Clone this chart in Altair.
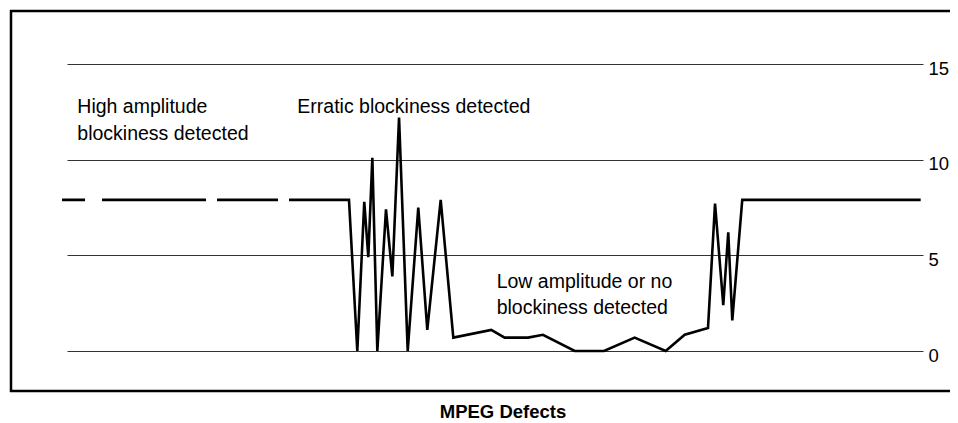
import altair as alt

# frame position (0..100) and blockiness level
frame_t = [0, 33.42, 34.39, 35.20, 35.67, 36.14, 36.72, 37.73, 38.47, 39.25,
           40.26, 41.49, 42.54, 44.10, 45.57, 49.99, 51.55, 54.27, 56.01, 59.71,
           63.12, 66.69, 70.30, 72.52, 75.23, 76.05, 77.01, 77.59, 78.06, 79.22, 100]
blockiness = [7.9, 7.9, 0, 7.8, 4.9, 10.1, 0, 7.4, 3.9, 12.2,
              0, 7.5, 1.1, 7.9, 0.7, 1.1, 0.7, 0.7, 0.85, 0,
              0, 0.7, 0, 0.85, 1.2, 7.7, 2.4, 6.2, 1.6, 7.9, 7.9]

grid_levels = [0, 5, 10, 15]

note_t = [1.78, 1.78, 27.40, 50.62, 50.62]
note_v = [12.45, 11.03, 12.42, 3.28, 1.92]
note_text = ["High amplitude", "blockiness detected",
             "Erratic blockiness detected",
             "Low amplitude or no", "blockiness detected"]

FONT = "Liberation Sans"

xscale = alt.Scale(domain=[0.58, 100.27], nice=False, zero=False)
yscale = alt.Scale(domain=[0, 15], nice=False, zero=False)

yaxis = alt.Axis(orient="right", values=grid_levels, grid=True,
                 gridColor="#333333", gridWidth=1, gridOpacity=1,
                 domain=False, ticks=False, labelPadding=5,
                 labelFontSize=18.5, labelFont=FONT, labelColor="black",
                 labelOffset=4, title=None)

line_data = alt.Data(values=[{"t": t, "v": v} for t, v in zip(frame_t, blockiness)])
note_data = alt.Data(values=[{"t": t, "v": v, "label": s}
                             for t, v, s in zip(note_t, note_v, note_text)])
frame_data = alt.Data(values=[{"frame": 1}])

line = alt.Chart(line_data).mark_line(
    color="black", strokeWidth=2.6,
    strokeDash=[23, 17, 104, 11, 61, 11, 100000, 1],
).encode(
    x=alt.X("t:Q", scale=xscale, axis=None),
    y=alt.Y("v:Q", scale=yscale, axis=yaxis),
)

notes = alt.Chart(note_data).mark_text(
    align="left", baseline="alphabetic", font=FONT, fontSize=19.5, color="black",
).encode(
    x=alt.X("t:Q", scale=xscale, axis=None),
    y=alt.Y("v:Q", scale=yscale, axis=yaxis),
    text="label:N",
)

# outer box: top, left and bottom edges; the right edge runs off the canvas
edge = dict(color="black", strokeWidth=2.5)
top = alt.Chart(frame_data).mark_rule(**edge).encode(
    x=alt.value(-57), x2=alt.value(990), y=alt.value(-53))
bottom = alt.Chart(frame_data).mark_rule(**edge).encode(
    x=alt.value(-57), x2=alt.value(990), y=alt.value(327))
left = alt.Chart(frame_data).mark_rule(**edge).encode(
    x=alt.value(-56), y=alt.value(-54), y2=alt.value(328))

chart = alt.layer(line, notes, top, bottom, left).properties(
    width=856, height=287,
    padding={"left": 59, "top": 56, "right": 27, "bottom": 72},
    autosize=alt.AutoSizeParams(type="none"),
    title=alt.TitleParams(text="MPEG Defects", orient="bottom", anchor="middle",
                          dx=8, offset=10, font="Liberation Sans",
                          fontSize=18.5, fontWeight="bold", color="black"),
).configure_view(strokeOpacity=0)

chart.save("out.html", embed_options={"renderer": "svg", "actions": False})
